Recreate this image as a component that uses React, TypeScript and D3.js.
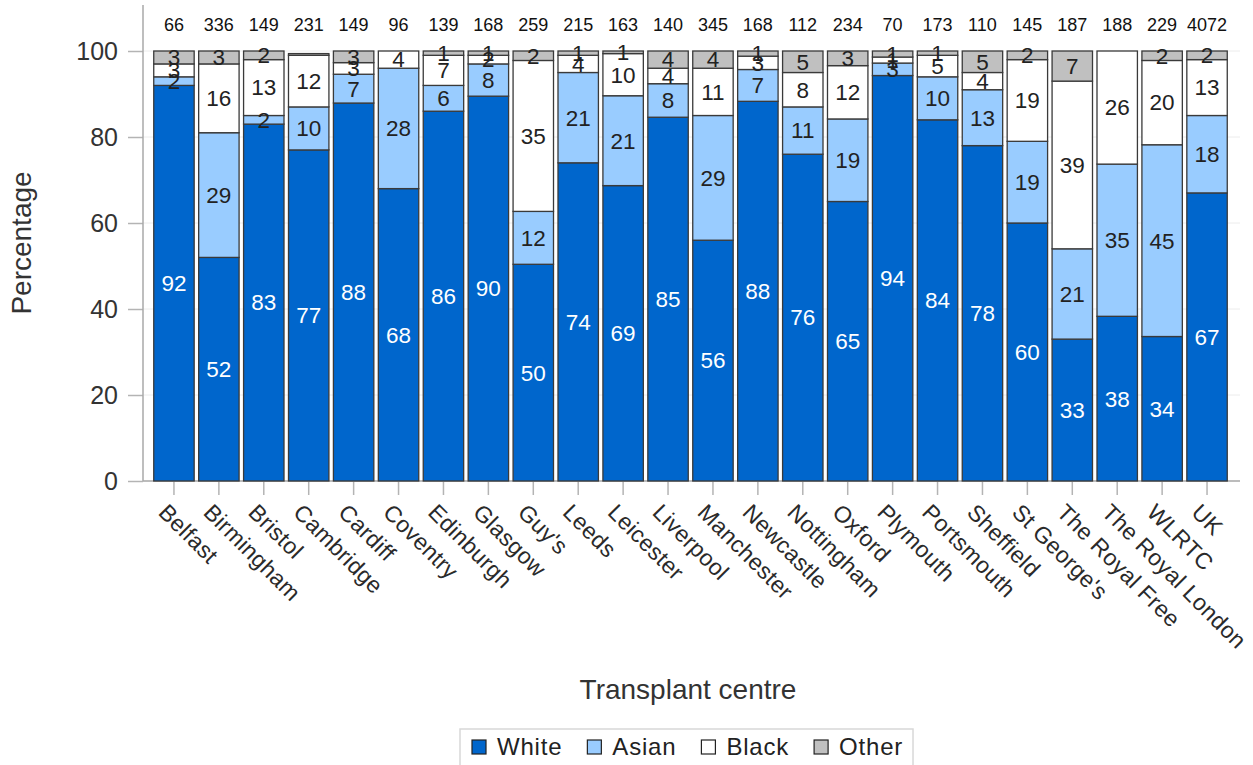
import * as d3 from 'd3';
import { useEffect, useRef } from 'react';

const centres = [
  'Belfast', 'Birmingham', 'Bristol', 'Cambridge', 'Cardiff', 'Coventry', 'Edinburgh', 'Glasgow',
  "Guy's", 'Leeds', 'Leicester', 'Liverpool', 'Manchester', 'Newcastle', 'Nottingham', 'Oxford',
  'Plymouth', 'Portsmouth', 'Sheffield', "St George's", 'The Royal Free', 'The Royal London', 'WLRTC', 'UK',
];
const totals = [66, 336, 149, 231, 149, 96, 139, 168, 259, 215, 163, 140, 345, 168, 112, 234, 70, 173, 110, 145, 187, 188, 229, 4072];

const white = [92, 52, 83, 77, 87.9, 68, 86, 89.5, 50.4, 74, 68.7, 84.6, 56, 88.3, 76, 65, 94.3, 84, 78, 60, 33, 38.3, 33.6, 67];
const asian = [2, 29, 2, 10, 6.7, 28, 6, 7.5, 12.3, 21, 20.9, 7.8, 29, 7.4, 11, 19.2, 2.9, 10, 13, 19, 21, 35.4, 44.6, 18];
const black = [3, 16, 13, 12, 2.7, 4, 7, 2, 35.1, 4, 9.8, 3.6, 11, 3.1, 8, 12.4, 1.4, 5, 4, 19, 39, 26.3, 19.6, 13];
const other = [3, 3, 2, 0.4, 2.7, 0, 1, 1, 2.2, 1, 0.6, 4, 4, 1.2, 5, 3.4, 1.4, 1, 5, 2, 7, 0, 2.2, 2];

const groups = ['White', 'Asian', 'Black', 'Other'];
const colours = ['#0066cc', '#99ccff', '#ffffff', '#c0c0c0'];
const yTicks = [0, 20, 40, 60, 80, 100];

const FONT = '"Liberation Sans", Arial, sans-serif';

export default function App() {
  const svgRef = useRef<SVGSVGElement | null>(null);

  useEffect(() => {
    if (!svgRef.current) return;
    const W = 1253, H = 765;
    const svg = d3.select(svgRef.current);
    svg.selectAll('*').remove();
    svg.attr('width', W).attr('height', H).attr('font-family', FONT);

    const rows = centres.map((c, i) => ({ centre: c, White: white[i], Asian: asian[i], Black: black[i], Other: other[i] }));

    const x = d3.scaleBand<string>().domain(centres).range([151.5, 1229.5]).paddingInner(0.1).paddingOuter(0.05);
    const y = d3.scaleLinear().domain([0, 110.7]).range([481, 5]);

    // gridlines
    svg.append('g')
      .selectAll('line')
      .data(yTicks)
      .join('line')
      .attr('x1', 143).attr('x2', 1240)
      .attr('y1', d => y(d)).attr('y2', d => y(d))
      .attr('stroke', '#ececec');

    // y axis
    const yAxis = svg.append('g').attr('transform', 'translate(143,0)')
      .call(d3.axisLeft(y).tickValues(yTicks).tickSize(15).tickPadding(10));
    yAxis.select('.domain').remove();
    yAxis.selectAll('line').attr('stroke', '#b4b4b4').attr('stroke-width', 1.5);
    yAxis.selectAll('text').attr('font-size', 25).attr('font-family', FONT).attr('fill', '#333');
    svg.append('line').attr('x1', 143).attr('x2', 143).attr('y1', 5).attr('y2', 481)
      .attr('stroke', '#a8a8a8').attr('stroke-width', 1.5);

    // x axis
    const xAxis = svg.append('g').attr('transform', 'translate(0,481)')
      .call(d3.axisBottom(x).tickSize(14).tickFormat(() => ''));
    xAxis.select('.domain').attr('stroke', '#a8a8a8').attr('stroke-width', 1.5).attr('d', 'M143,0H1240');
    xAxis.selectAll('line').attr('stroke', '#b4b4b4').attr('stroke-width', 1.5);

    svg.append('g')
      .selectAll('text')
      .data(centres)
      .join('text')
      .attr('transform', d => `translate(${x(d)! + x.bandwidth() / 2 - 11},${508}) rotate(45)`)
      .attr('text-anchor', 'start')
      .attr('dy', '0.35em')
      .attr('font-size', 23)
      .attr('letter-spacing', 0.3)
      .attr('fill', '#2a2a2a')
      .text(d => d);

    const stack = d3.stack<any>().keys(groups);
    const series = stack(rows);

    const layer = svg.append('g')
      .selectAll('g')
      .data(series)
      .join('g')
      .attr('fill', (_, i) => colours[i]);

    layer.selectAll('rect')
      .data(d => d)
      .join('rect')
      .attr('x', d => x(d.data.centre)!)
      .attr('width', x.bandwidth())
      .attr('y', d => y(d[1]))
      .attr('height', d => y(d[0]) - y(d[1]))
      .attr('stroke', '#3a3a3a')
      .attr('stroke-width', 1.3);

    // segment labels
    series.forEach((s, si) => {
      svg.append('g')
        .selectAll('text')
        .data(s.filter(d => Math.round(d[1] - d[0]) >= 1))
        .join('text')
        .attr('x', d => x(d.data.centre)! + x.bandwidth() / 2)
        .attr('y', d => y((d[0] + d[1]) / 2))
        .attr('dy', '0.35em')
        .attr('text-anchor', 'middle')
        .attr('font-size', 22.5)
        .attr('fill', si === 0 ? '#ffffff' : '#222')
        .text(d => Math.round(d[1] - d[0]));
    });

    // totals
    svg.append('g')
      .selectAll('text')
      .data(centres)
      .join('text')
      .attr('x', d => x(d)! + x.bandwidth() / 2)
      .attr('y', 25)
      .attr('dy', '0.35em')
      .attr('text-anchor', 'middle')
      .attr('font-size', 18)
      .attr('fill', '#111')
      .text((_, i) => totals[i]);

    // axis titles
    svg.append('text')
      .attr('transform', 'translate(21,243) rotate(-90)')
      .attr('text-anchor', 'middle')
      .attr('dy', '0.35em')
      .attr('font-size', 28)
      .attr('fill', '#333')
      .text('Percentage');
    svg.append('text')
      .attr('x', 688).attr('y', 689)
      .attr('text-anchor', 'middle')
      .attr('dy', '0.35em')
      .attr('font-size', 28)
      .attr('fill', '#333')
      .text('Transplant centre');

    // legend
    const lg = svg.append('g');
    lg.append('rect').attr('x', 460).attr('y', 729).attr('width', 453).attr('height', 40)
      .attr('fill', 'none').attr('stroke', '#d8d8d8').attr('stroke-width', 1.5);
    let lx = 472;
    groups.forEach((g, i) => {
      lg.append('rect').attr('x', lx).attr('y', 740).attr('width', 14).attr('height', 14)
        .attr('fill', colours[i]).attr('stroke', '#222').attr('stroke-width', 1.2);
      const t = lg.append('text').attr('x', lx + 25).attr('y', 747).attr('dy', '0.35em')
        .attr('font-size', 24).attr('letter-spacing', 0.8).attr('fill', '#222').text(g);
      const len = (t.node() as SVGTextElement).getComputedTextLength();
      lx += 25 + len + 25;
    });
  }, []);

  return (
    <div style={{ position: 'absolute', left: 0, top: 0, background: '#fff' }}>
      <svg ref={svgRef} style={{ display: 'block' }} />
    </div>
  );
}
